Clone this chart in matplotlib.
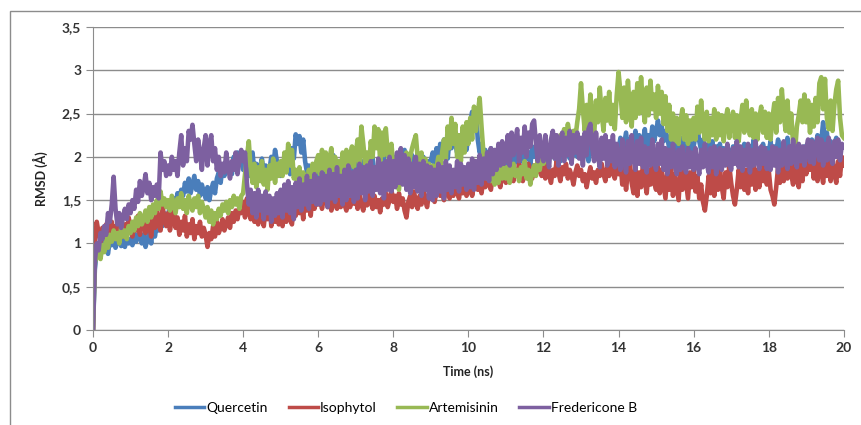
import numpy as np
import matplotlib
matplotlib.use('Agg')
import matplotlib.pyplot as plt
from matplotlib.patches import Rectangle
from matplotlib.ticker import FuncFormatter

# RMSD samples every 0.05 ns (one row = 1 ns)
step_ns = 0.05

quercetin = [
    0.00, 0.70, 0.92, 0.85, 1.02, 0.90, 1.05, 0.95, 0.88, 1.05, 0.98, 1.08, 0.95, 1.02, 1.10, 0.97, 1.05, 0.96, 1.08, 1.00,
    1.05, 0.98, 1.12, 1.02, 1.08, 1.15, 1.00, 1.10, 0.96, 1.05, 1.12, 1.00, 1.18, 1.08, 1.22, 1.15, 1.28, 1.20, 1.35, 1.25,
    1.32, 1.45, 1.38, 1.52, 1.42, 1.58, 1.48, 1.62, 1.55, 1.70, 1.60, 1.75, 1.58, 1.68, 1.78, 1.62, 1.72, 1.55, 1.68, 1.60,
    1.52, 1.65, 1.50, 1.62, 1.70, 1.58, 1.75, 1.82, 1.70, 1.88, 1.78, 1.95, 1.85, 1.92, 1.80, 2.00, 1.88, 2.05, 1.92, 1.98,
    1.85, 2.02, 1.90, 1.78, 1.95, 2.05, 1.82, 1.92, 1.75, 1.88, 1.98, 1.80, 1.90, 1.72, 1.85, 2.00, 1.88, 2.08, 1.95, 1.85,
    1.78, 1.92, 1.85, 2.05, 1.95, 1.80, 2.10, 1.98, 2.26, 2.15, 2.24, 2.05, 2.20, 1.95, 1.82, 1.90, 1.78, 1.88, 1.75, 1.92,
    1.78, 1.90, 1.80, 1.98, 1.85, 1.75, 1.92, 1.82, 2.02, 1.78, 1.88, 1.72, 1.95, 1.82, 1.90, 1.78, 1.98, 1.85, 1.75, 1.88,
    1.80, 1.98, 1.85, 1.78, 1.95, 1.82, 2.00, 1.78, 1.90, 1.98, 1.80, 1.88, 1.75, 1.92, 1.85, 2.00, 1.78, 1.90, 1.82, 1.95,
    1.85, 2.00, 1.88, 1.78, 1.98, 1.90, 2.08, 1.82, 1.95, 1.80, 2.02, 1.88, 1.98, 1.80, 1.92, 1.85, 2.00, 1.88, 1.80, 1.95,
    1.95, 2.05, 1.88, 2.10, 1.95, 2.15, 2.02, 2.20, 2.08, 1.98, 2.22, 2.10, 2.28, 2.15, 2.05, 2.25, 2.12, 2.30, 2.18, 2.08,
    2.25, 2.40, 2.52, 2.35, 2.55, 2.20, 2.05, 2.15, 1.95, 2.08, 1.92, 2.02, 2.10, 1.95, 2.05, 1.90, 2.00, 2.08, 1.95, 2.05,
    1.90, 2.02, 1.92, 2.08, 1.85, 2.00, 2.10, 1.92, 2.05, 1.95, 2.12, 1.98, 2.05, 1.90, 2.12, 2.00, 2.08, 1.95, 2.05, 1.98,
    2.02, 2.12, 1.95, 2.08, 2.00, 2.18, 1.98, 2.05, 2.15, 1.95, 2.08, 2.02, 2.22, 2.05, 1.98, 2.12, 2.02, 2.18, 2.00, 2.08,
    2.12, 2.02, 2.20, 2.05, 1.95, 2.10, 2.22, 2.02, 2.15, 1.98, 2.08, 2.20, 2.00, 2.12, 2.05, 1.95, 2.10, 2.18, 2.02, 2.12,
    2.08, 2.22, 2.02, 2.15, 2.28, 2.08, 2.20, 2.00, 2.12, 2.30, 2.10, 2.25, 2.05, 2.18, 2.32, 2.10, 2.25, 2.15, 2.35, 2.18,
    2.30, 2.42, 2.25, 2.35, 2.18, 2.30, 2.22, 2.10, 2.25, 2.15, 2.28, 2.05, 2.18, 2.10, 2.22, 2.02, 2.15, 2.08, 2.20, 2.05,
    2.12, 2.25, 2.35, 2.18, 2.08, 2.20, 2.10, 2.02, 2.15, 2.08, 2.18, 1.98, 2.12, 2.05, 2.15, 1.98, 2.10, 2.02, 2.12, 2.05,
    1.98, 2.12, 2.05, 2.18, 1.95, 2.10, 2.02, 2.15, 2.08, 1.98, 2.12, 2.05, 2.20, 2.00, 2.10, 1.95, 2.08, 2.15, 2.02, 2.10,
    2.05, 2.18, 1.98, 2.12, 2.05, 2.20, 2.08, 1.98, 2.15, 2.05, 2.22, 2.02, 2.12, 1.95, 2.08, 2.15, 2.00, 2.10, 2.05, 2.12,
    2.02, 2.15, 2.08, 2.20, 2.05, 2.12, 2.25, 2.10, 2.18, 2.40, 2.15, 2.28, 2.08, 2.18, 2.05, 2.15, 2.22, 2.08, 2.15, 2.10,
    2.12]

isophytol = [
    0.00, 1.05, 1.25, 1.12, 1.02, 1.18, 1.08, 1.22, 1.00, 1.15, 1.25, 1.10, 1.20, 1.05, 1.28, 1.15, 1.08, 1.22, 1.12, 1.30,
    1.18, 1.08, 1.25, 1.15, 1.32, 1.10, 1.22, 1.28, 1.12, 1.35, 1.20, 1.08, 1.28, 1.18, 1.38, 1.22, 1.15, 1.45, 1.28, 1.20,
    1.35, 1.15, 1.28, 1.42, 1.18, 1.30, 1.10, 1.25, 1.15, 1.32, 1.08, 1.22, 1.12, 1.28, 1.05, 1.20, 1.12, 1.25, 1.08, 1.18,
    1.10, 0.96, 1.12, 1.05, 1.20, 1.08, 1.25, 1.12, 1.18, 1.28, 1.15, 1.22, 1.30, 1.18, 1.35, 1.25, 1.38, 1.28, 1.42, 1.35,
    1.48, 1.30, 1.52, 1.38, 1.28, 1.50, 1.25, 1.45, 1.22, 1.48, 1.32, 1.20, 1.42, 1.28, 1.48, 1.20, 1.40, 1.25, 1.45, 1.22,
    1.38, 1.20, 1.45, 1.25, 1.48, 1.28, 1.22, 1.45, 1.32, 1.52, 1.35, 1.48, 1.28, 1.55, 1.38, 1.50, 1.32, 1.58, 1.40, 1.52,
    1.45, 1.55, 1.40, 1.52, 1.58, 1.42, 1.50, 1.38, 1.55, 1.45, 1.40, 1.52, 1.42, 1.58, 1.45, 1.38, 1.50, 1.42, 1.55, 1.46,
    1.52, 1.40, 1.58, 1.45, 1.38, 1.52, 1.44, 1.60, 1.48, 1.40, 1.55, 1.42, 1.50, 1.36, 1.52, 1.45, 1.58, 1.42, 1.50, 1.62,
    1.48, 1.55, 1.40, 1.58, 1.45, 1.52, 1.38, 1.30, 1.48, 1.55, 1.42, 1.60, 1.48, 1.40, 1.55, 1.45, 1.62, 1.50, 1.42, 1.58,
    1.52, 1.65, 1.48, 1.60, 1.70, 1.55, 1.62, 1.50, 1.68, 1.58, 1.52, 1.65, 1.55, 1.72, 1.60, 1.52, 1.68, 1.58, 1.65, 1.55,
    1.60, 1.72, 1.55, 1.68, 1.78, 1.62, 1.70, 1.58, 1.75, 1.65, 1.80, 1.68, 1.62, 1.78, 1.70, 1.85, 1.72, 1.65, 1.80, 1.75,
    1.70, 1.82, 1.75, 1.88, 1.72, 1.85, 1.78, 1.92, 1.80, 1.72, 1.88, 1.78, 1.92, 1.82, 1.75, 1.90, 1.80, 1.95, 1.85, 1.78,
    1.88, 1.75, 1.92, 1.80, 1.70, 1.85, 1.78, 1.95, 1.82, 1.72, 1.88, 1.80, 1.92, 1.75, 1.85, 1.78, 1.68, 1.82, 1.90, 1.78,
    1.85, 1.72, 1.80, 1.65, 1.78, 1.88, 1.75, 1.82, 1.70, 1.85, 1.78, 1.92, 1.80, 1.72, 1.88, 1.78, 1.95, 1.82, 1.75, 1.90,
    1.80, 1.95, 1.68, 1.90, 1.62, 1.85, 1.95, 1.70, 1.58, 1.88, 1.55, 1.82, 1.65, 1.92, 1.72, 1.58, 1.85, 1.68, 1.92, 1.70,
    1.62, 1.88, 1.58, 1.85, 1.68, 1.52, 1.82, 1.62, 1.88, 1.55, 1.80, 1.65, 1.50, 1.85, 1.62, 1.88, 1.70, 1.52, 1.82, 1.65,
    1.85, 1.60, 1.78, 1.52, 1.68, 1.48, 1.38, 1.55, 1.78, 1.58, 1.85, 1.55, 1.80, 1.62, 1.88, 1.65, 1.52, 1.82, 1.65, 1.90,
    1.70, 1.55, 1.45, 1.62, 1.85, 1.65, 1.90, 1.62, 1.85, 1.58, 1.88, 1.68, 1.92, 1.62, 1.85, 1.65, 1.90, 1.72, 1.95, 1.68,
    1.85, 1.62, 1.55, 1.45, 1.65, 1.88, 1.70, 1.92, 1.72, 1.98, 1.75, 2.00, 1.80, 1.68, 1.95, 1.75, 1.65, 1.92, 1.72, 2.00,
    1.80, 2.02, 1.85, 2.08, 1.75, 2.00, 1.72, 2.05, 1.82, 1.70, 1.95, 1.78, 2.02, 1.72, 1.98, 1.80, 1.70, 1.95, 1.78, 2.00,
    1.90]

artemisinin = [
    0.00, 0.78, 0.85, 0.92, 0.82, 0.98, 0.90, 1.05, 0.95, 1.10, 1.02, 1.15, 1.05, 1.12, 1.00, 1.18, 1.08, 1.15, 1.05, 1.20,
    1.12, 1.25, 1.15, 1.30, 1.20, 1.35, 1.22, 1.28, 1.38, 1.25, 1.42, 1.30, 1.45, 1.35, 1.50, 1.40, 1.60, 1.45, 1.52, 1.42,
    1.50, 1.38, 1.55, 1.45, 1.35, 1.52, 1.42, 1.58, 1.40, 1.50, 1.35, 1.55, 1.45, 1.38, 1.52, 1.42, 1.55, 1.35, 1.48, 1.40,
    1.30, 1.42, 1.25, 1.38, 1.22, 1.35, 1.28, 1.40, 1.32, 1.45, 1.38, 1.48, 1.35, 1.50, 1.42, 1.55, 1.45, 1.52, 1.40, 1.55,
    1.58, 1.80, 2.00, 2.18, 1.85, 1.70, 1.92, 1.65, 1.88, 1.72, 1.95, 1.68, 1.85, 1.62, 1.90, 1.75, 1.98, 1.70, 1.92, 1.78,
    1.95, 1.78, 2.05, 1.82, 2.15, 1.90, 2.08, 1.75, 1.85, 1.68, 1.88, 1.65, 1.82, 1.70, 1.62, 1.85, 1.72, 1.92, 1.75, 1.95,
    2.02, 1.80, 2.08, 1.85, 2.05, 1.78, 1.98, 2.10, 1.82, 2.00, 1.75, 1.95, 1.80, 2.05, 1.85, 2.08, 1.78, 2.02, 2.12, 1.88,
    2.05, 2.20, 1.90, 2.35, 2.15, 1.92, 2.05, 1.85, 2.18, 2.00, 2.35, 2.10, 2.32, 1.95, 2.28, 2.02, 2.33, 2.05, 1.92, 2.15,
    1.90, 1.80, 1.70, 1.62, 1.85, 1.95, 1.78, 2.05, 1.85, 2.00, 2.10, 2.18, 2.25, 1.98, 1.85, 2.05, 1.80, 1.98, 1.78, 1.92,
    1.72, 1.90, 1.68, 1.88, 2.00, 1.80, 2.05, 2.20, 1.98, 2.35, 2.10, 2.45, 2.15, 2.38, 2.00, 2.25, 1.95, 2.35, 2.05, 2.40,
    2.15, 2.45, 2.20, 2.58, 2.30, 2.50, 2.68, 2.35, 2.05, 1.85, 1.75, 1.98, 1.72, 1.90, 1.68, 1.88, 1.70, 1.95, 1.75, 1.90,
    1.75, 1.88, 1.70, 1.82, 1.92, 1.78, 1.85, 1.72, 1.88, 1.80, 1.95, 1.75, 1.85, 1.68, 1.82, 1.90, 1.78, 1.95, 1.85, 2.00,
    1.92, 2.05, 1.95, 2.10, 2.00, 2.15, 2.05, 2.20, 2.10, 2.25, 2.15, 2.32, 2.20, 2.38, 2.25, 2.15, 2.30, 2.22, 2.40, 2.55,
    2.85, 2.55, 2.30, 2.60, 2.35, 2.72, 2.45, 2.25, 2.65, 2.40, 2.80, 2.50, 2.30, 2.68, 2.42, 2.75, 2.38, 2.60, 2.32, 2.70,
    2.98, 2.75, 2.45, 2.80, 2.40, 2.88, 2.55, 2.35, 2.75, 2.45, 2.85, 2.50, 2.92, 2.60, 2.40, 2.80, 2.48, 2.88, 2.55, 2.72,
    2.45, 2.82, 2.50, 2.75, 2.38, 2.70, 2.30, 2.60, 2.20, 2.50, 2.18, 2.45, 2.15, 2.40, 2.55, 2.20, 2.48, 2.15, 2.42, 2.20,
    2.45, 2.20, 2.58, 2.28, 2.65, 2.35, 2.20, 2.52, 2.18, 2.45, 2.25, 2.55, 2.20, 2.50, 2.25, 2.48, 2.18, 2.42, 2.55, 2.22,
    2.40, 2.52, 2.22, 2.48, 2.18, 2.42, 2.60, 2.28, 2.65, 2.40, 2.25, 2.55, 2.22, 2.50, 2.20, 2.45, 2.58, 2.28, 2.52, 2.22,
    2.50, 2.20, 2.45, 2.62, 2.28, 2.68, 2.40, 2.78, 2.50, 2.30, 2.65, 2.28, 2.50, 2.15, 2.05, 2.35, 2.48, 2.65, 2.40, 2.72,
    2.40, 2.65, 2.28, 2.60, 2.35, 2.68, 2.40, 2.85, 2.92, 2.55, 2.90, 2.45, 2.32, 2.65, 2.30, 2.60, 2.78, 2.88, 2.45, 2.25,
    2.22]

fredericone_b = [
    0.00, 0.80, 1.00, 0.92, 1.12, 1.05, 1.20, 1.10, 1.35, 1.25, 1.45, 1.77, 1.40, 1.22, 1.35, 1.18, 1.30, 1.40, 1.28, 1.45,
    1.35, 1.50, 1.40, 1.62, 1.48, 1.72, 1.55, 1.65, 1.80, 1.58, 1.70, 1.50, 1.65, 1.55, 1.68, 1.52, 2.05, 1.85, 1.95, 1.78,
    1.90, 1.80, 2.00, 1.85, 1.95, 1.78, 2.05, 2.25, 1.90, 2.10, 1.95, 2.30, 2.20, 2.37, 2.15, 1.95, 2.20, 2.05, 1.85, 2.10,
    2.25, 1.90, 2.15, 2.25, 1.95, 2.10, 1.85, 2.00, 1.78, 1.92, 1.82, 2.05, 1.88, 1.75, 1.95, 1.85, 2.05, 1.80, 1.95, 2.08,
    1.95, 2.05, 1.70, 1.45, 1.62, 1.35, 1.58, 1.30, 1.62, 1.38, 1.55, 1.28, 1.60, 1.35, 1.55, 1.25, 1.52, 1.32, 1.58, 1.35,
    1.62, 1.30, 1.68, 1.38, 1.72, 1.35, 1.65, 1.28, 1.70, 1.42, 1.75, 1.38, 1.68, 1.45, 1.78, 1.40, 1.72, 1.48, 1.80, 1.45,
    1.75, 1.45, 1.82, 1.50, 1.78, 1.42, 1.85, 1.52, 1.80, 1.48, 1.88, 1.55, 1.78, 1.45, 1.85, 1.50, 1.90, 1.55, 1.82, 1.48,
    1.85, 1.52, 1.92, 1.58, 1.88, 1.50, 1.90, 1.60, 1.95, 1.55, 1.88, 1.62, 1.98, 1.58, 1.92, 1.52, 1.95, 1.62, 2.00, 1.60,
    1.95, 1.65, 2.05, 1.70, 2.10, 1.68, 2.02, 1.62, 1.98, 1.58, 1.92, 1.65, 2.00, 1.60, 1.92, 1.55, 1.95, 1.62, 1.90, 1.52,
    1.88, 1.50, 1.85, 1.55, 1.92, 1.60, 1.88, 1.52, 1.95, 1.62, 1.90, 1.58, 1.85, 1.65, 1.95, 1.60, 1.92, 1.68, 1.88, 1.62,
    1.92, 1.65, 1.98, 1.62, 1.95, 1.70, 2.02, 1.68, 1.98, 1.75, 2.05, 1.72, 2.10, 1.80, 2.08, 1.85, 2.15, 1.90, 2.18, 1.92,
    2.00, 2.25, 1.90, 2.28, 2.02, 2.18, 2.32, 1.95, 2.22, 2.05, 2.35, 2.00, 2.28, 2.12, 2.38, 2.42, 2.15, 1.95, 2.25, 2.05,
    1.95, 2.25, 2.02, 1.88, 2.20, 2.30, 1.98, 2.25, 1.90, 2.18, 2.28, 1.95, 2.22, 2.02, 2.30, 1.92, 2.25, 2.05, 2.28, 1.98,
    2.22, 1.90, 2.28, 2.02, 2.32, 2.38, 2.10, 1.95, 2.28, 2.02, 1.88, 2.22, 1.98, 2.25, 1.90, 2.18, 1.95, 2.25, 1.88, 2.15,
    1.95, 1.85, 2.20, 1.98, 1.82, 2.18, 1.92, 2.25, 1.98, 1.85, 2.18, 1.92, 2.22, 1.88, 2.12, 1.82, 2.10, 1.90, 2.20, 1.95,
    1.85, 2.15, 1.92, 2.20, 1.85, 2.10, 1.80, 2.08, 1.88, 2.15, 1.90, 1.80, 2.08, 1.85, 2.12, 1.90, 1.82, 2.10, 1.88, 2.05,
    1.85, 2.10, 1.90, 1.80, 2.08, 1.88, 2.15, 1.92, 1.82, 2.10, 1.88, 2.12, 1.80, 2.02, 2.10, 1.85, 2.08, 1.90, 2.15, 1.92,
    1.85, 2.10, 1.92, 2.18, 1.88, 2.12, 1.84, 2.08, 1.90, 2.15, 1.82, 2.08, 1.90, 2.18, 1.95, 1.86, 2.12, 1.92, 2.10, 1.86,
    2.05, 1.85, 2.12, 1.90, 2.10, 1.82, 2.08, 1.90, 2.18, 1.95, 1.86, 2.12, 1.92, 2.20, 1.96, 1.88, 2.15, 1.95, 2.12, 1.90,
    2.10, 2.20, 1.94, 2.18, 1.92, 2.12, 2.22, 1.96, 2.20, 1.90, 2.15, 1.96, 2.22, 2.00, 1.92, 2.18, 2.00, 2.20, 1.96, 2.15,
    2.12]

series_names = ['Quercetin', 'Isophytol', 'Artemisinin', 'Fredericone B']
series_colors = ['#4A7EBB', '#BE4B48', '#98B954', '#7D60A0']

plt.rcParams['font.family'] = ['Lato', 'DejaVu Sans']

fig = plt.figure(figsize=(8.61, 4.25), dpi=100)
ax = fig.add_axes([0.108, 0.2235, 0.872, 0.713])

# outer chart frame
fig.patches.append(Rectangle((0.0116, -0.1), 1.2, 1.074, transform=fig.transFigure,
                             fill=False, edgecolor='#8c8c8c', linewidth=1))

for vals, name, col in zip([quercetin, isophytol, artemisinin, fredericone_b],
                           series_names, series_colors):
    t = np.arange(len(vals)) * step_ns
    ax.plot(t, vals, color=col, linewidth=3.3, label=name)

ax.set_xlim(0, 20)
ax.set_ylim(0, 3.5)
ax.set_xticks(np.arange(0, 21, 2))
ax.set_yticks(np.arange(0, 3.51, 0.5))
ax.yaxis.set_major_formatter(FuncFormatter(lambda v, p: ('%g' % v).replace('.', ',')))
ax.grid(axis='y', color='#8c8c8c', linewidth=1)
ax.set_axisbelow(True)
for s in ['top', 'right']:
    ax.spines[s].set_visible(False)
for s in ['left', 'bottom']:
    ax.spines[s].set_color('#8c8c8c')
ax.tick_params(colors='#8c8c8c', length=5, labelcolor='#333333', labelsize=10)
for lab in ax.get_xticklabels() + ax.get_yticklabels():
    lab.set_fontweight('bold')

ax.set_xlabel('Time (ns)', fontsize=9, fontweight='bold', color='#222222', labelpad=8)
ax.set_ylabel('RMSD (Å)', fontsize=9, fontweight='bold', color='#222222', labelpad=10)

leg = fig.legend(loc='center', bbox_to_anchor=(406 / 861, 1 - 408 / 425), ncol=4,
                 frameon=False, fontsize=10, handlelength=2.1, handletextpad=0.15,
                 columnspacing=1.5)
for h in leg.get_lines():
    h.set_linewidth(2.5)

fig.savefig('out.png', dpi=100)
